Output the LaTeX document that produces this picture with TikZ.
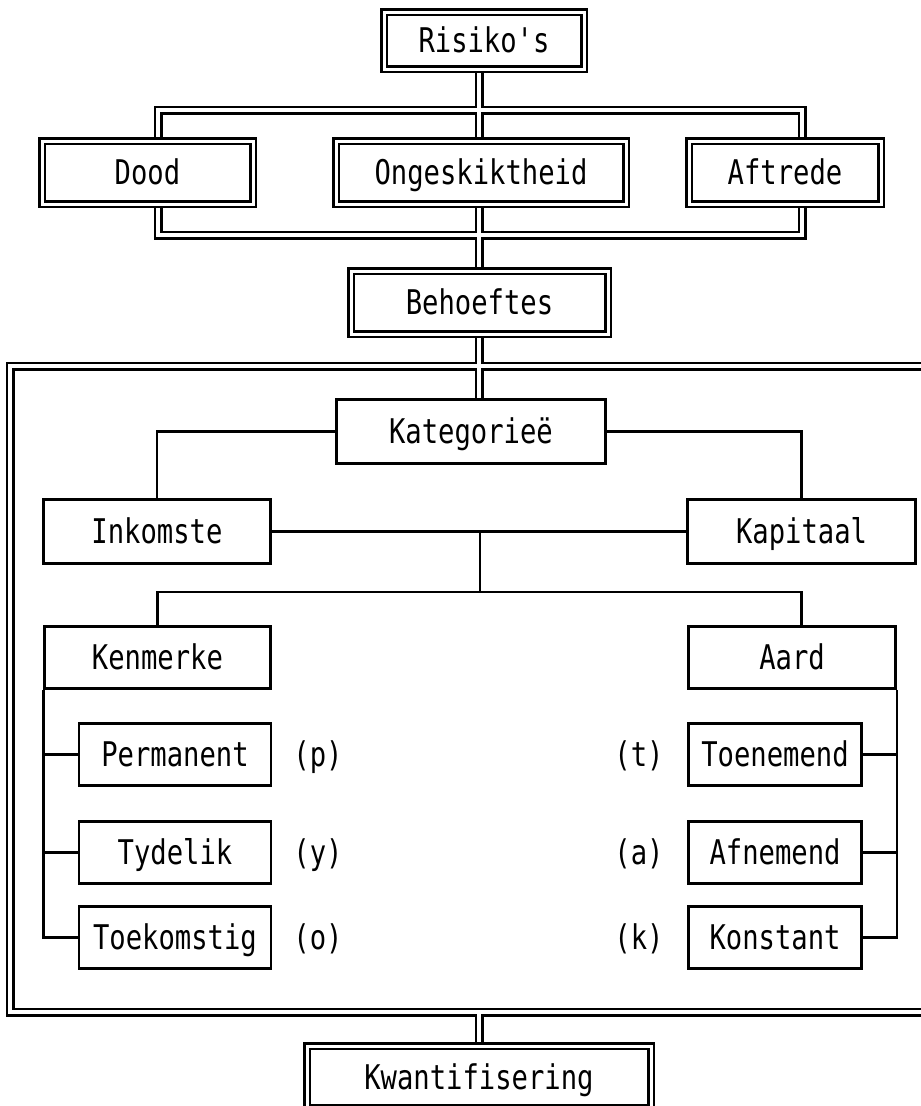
\documentclass[tikz,border=0pt]{standalone}
\usepackage{fontspec}
\newfontfamily\diafont[FakeStretch=0.8,Ligatures=TeXOff]{DejaVu Sans Mono}
\usepackage{tikz}
\usetikzlibrary{backgrounds}

\begin{document}
\begin{tikzpicture}[x=1pt,y=-1pt,
every node/.style={font=\diafont\fontsize{34}{40}\selectfont,text height=24pt,text depth=0pt},
dbox/.style={draw,double,double distance=3pt,line width=2.6pt,fill=white,inner sep=0pt},
sbox/.style={draw,line width=2.6pt,fill=white,inner sep=0pt},
lnk/.style={line width=2.6pt}]
\useasboundingbox (0,0) rectangle (921,1106);
\clip (0,0) rectangle (921,1106);

\node[dbox,minimum width=200,minimum height=57] (risiko) at (484,40.5) {Risiko's};
\node[dbox,minimum width=211,minimum height=63] (dood) at (147.5,172.5) {Dood};
\node[dbox,minimum width=290,minimum height=63] (onges) at (481,172.5) {Ongeskiktheid};
\node[dbox,minimum width=192,minimum height=63] (aftrede) at (785,172.5) {Aftrede};
\node[dbox,minimum width=257,minimum height=63] (behoeftes) at (479.5,302.5) {Behoeftes};
\node[dbox,minimum width=344,minimum height=62] (kwant) at (479,1077) {Kwantifisering};

\node[sbox,minimum width=269,minimum height=64] (kategorie) at (471,431.5) {Kategorieë};
\node[sbox,minimum width=227,minimum height=64] (inkomste) at (157,531.5) {Inkomste};
\node[sbox,minimum width=228,minimum height=64] (kapitaal) at (801.5,531.5) {Kapitaal};
\node[sbox,minimum width=226,minimum height=62] (kenmerke) at (157.5,657.5) {Kenmerke};
\node[sbox,minimum width=207,minimum height=62] (aard) at (792,657.5) {Aard};

\foreach \nm/\txt/\yy in {permanent/Permanent/754.5,tydelik/Tydelik/852.5,toekomstig/Toekomstig/937.5}
  \node[sbox,minimum width=192,minimum height=62] (\nm) at (175,\yy) {\txt};
\foreach \nm/\txt/\yy in {toenemend/Toenemend/754.5,afnemend/Afnemend/852.5,konstant/Konstant/937.5}
  \node[sbox,minimum width=173,minimum height=62] (\nm) at (775,\yy) {\txt};

\foreach \lbl/\yy in {p/754.5,y/852.5,o/937.5}
  \node (lbl\lbl) at (318,\yy) {(\lbl)};
\foreach \lbl/\yy in {t/754.5,a/852.5,k/937.5}
  \node (lbl\lbl) at (639,\yy) {(\lbl)};

\coordinate (axis) at (479,0);
\coordinate (tl) at (158,110);
\coordinate (tr) at (802,110);
\coordinate (bl) at (158,235);
\coordinate (br) at (802,235);
\coordinate (fb) at (479,1012);
\coordinate (split) at (480,592);

% double lines
\begin{scope}[on background layer]
\foreach \lw/\clr in {9pt/black,3.4pt/white}{
\draw[line width=\lw,\clr]
(risiko.south -| axis) -- (onges.north -| axis)
(dood.north -| tl) -- (tl) -- (tr) -- (aftrede.north -| tr)
(onges.south -| axis) -- (behoeftes.north -| axis)
(dood.south -| bl) -- (bl) -- (br) -- (aftrede.south -| br)
(behoeftes.south -| axis) -- (kategorie.north -| axis)
(fb) -- (kwant.north -| axis)
(10,366) rectangle (945,1012);
}
\end{scope}

\draw[lnk] (kategorie.west) -| (inkomste.north);
\draw[lnk] (kategorie.east) -| (kapitaal.north);
\draw[lnk] (inkomste.east) -- (kapitaal.west);
\draw[lnk] (inkomste.east -| split) -- (split);
\draw[lnk] (kenmerke.north) |- (split) -| (aard.north -| kapitaal.north);

\draw[lnk] (kenmerke.south west) |- (toekomstig.west);
\draw[lnk] (kenmerke.south west |- permanent.west) -- (permanent.west);
\draw[lnk] (kenmerke.south west |- tydelik.west) -- (tydelik.west);
\draw[lnk] (aard.south east) |- (konstant.east);
\draw[lnk] (aard.south east |- toenemend.east) -- (toenemend.east);
\draw[lnk] (aard.south east |- afnemend.east) -- (afnemend.east);
\end{tikzpicture}
\end{document}
